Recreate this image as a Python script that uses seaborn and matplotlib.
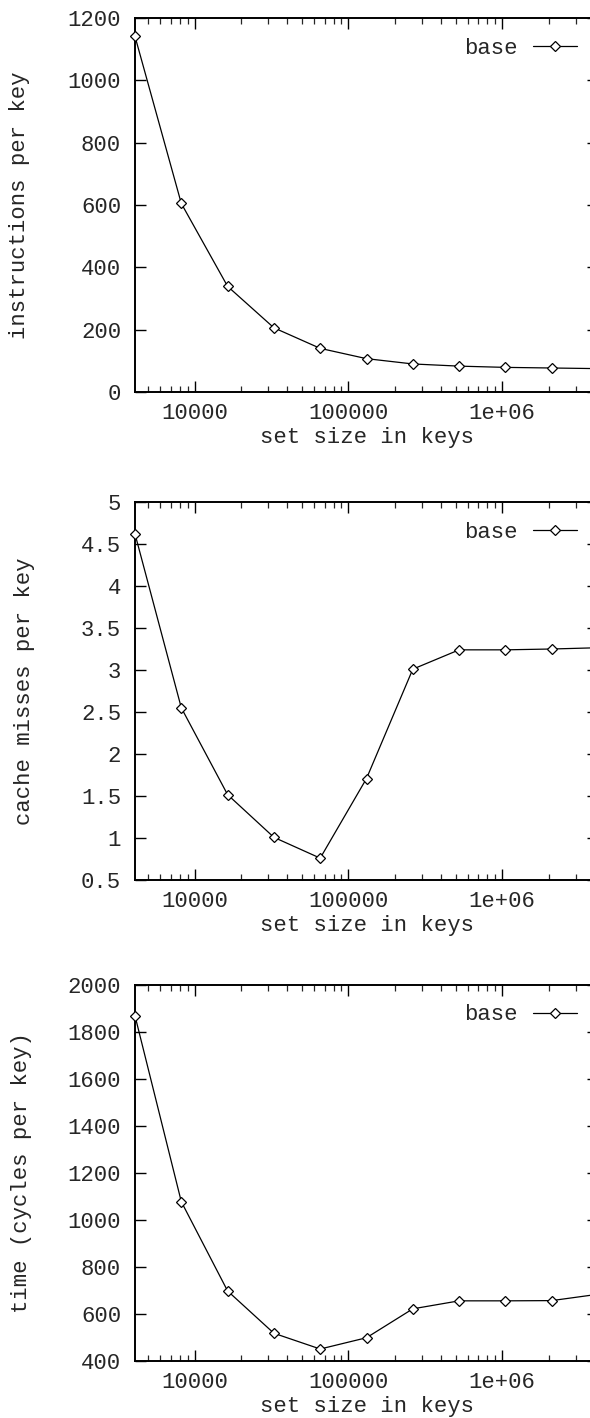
import matplotlib
matplotlib.use("Agg")
import matplotlib.pyplot as plt
import matplotlib.ticker as mticker
import seaborn as sns
import pandas as pd

# ---- data ----
set_sizes = [4096, 8192, 16384, 32768, 65536, 131072, 262144, 524288,
             1048576, 2097152, 4194304]
instructions = [1141, 605, 339, 206, 140, 107, 90, 83, 79, 77, 75]
cache_misses = [4.62, 2.55, 1.516, 1.008, 0.76, 1.708, 3.01, 3.24, 3.24, 3.25, 3.265]
cycles = [1869, 1078, 698, 518, 451, 499, 622, 656, 656, 657, 684]

series_label = "base"
x_label = "set size in keys"
y_labels = ["instructions per key", "cache misses per key", "time (cycles per key)"]
y_limits = [(0, 1200), (0.5, 5), (400, 2000)]
y_steps = [200, 0.5, 200]
x_ticks = [10000, 100000, 1000000]
x_tick_labels = ["10000", "100000", "1e+06"]

# ---- style ----
sns.set_style("ticks")
plt.rcParams["font.family"] = ["Liberation Mono", "DejaVu Sans Mono"]
FS = 16

W, H = 590, 1418
fig = plt.figure(figsize=(W / 100, H / 100), dpi=100)

left = 135 / W
width = (598 - 135) / W
panels_px = [(18, 392), (502, 880), (985, 1361)]
ylabel_x_px = [20, 25, 22]

datasets = [instructions, cache_misses, cycles]

for i, (top_px, bot_px) in enumerate(panels_px):
    ax = fig.add_axes([left, 1 - bot_px / H, width, (bot_px - top_px) / H])
    df = pd.DataFrame({"x": set_sizes, "y": datasets[i]})
    sns.lineplot(data=df, x="x", y="y", ax=ax, color="black", linewidth=0.9,
                 marker="D", markersize=4.6, markerfacecolor="white",
                 markeredgecolor="black", markeredgewidth=0.9,
                 label=series_label, clip_on=False, zorder=3)
    ax.set_xscale("log")
    ax.set_xlim(4096, 4194304)
    ax.set_ylim(*y_limits[i])
    ax.yaxis.set_major_locator(mticker.MultipleLocator(y_steps[i]))
    ax.set_xticks(x_ticks)
    ax.set_xticklabels(x_tick_labels)
    ax.xaxis.set_minor_locator(mticker.LogLocator(base=10, subs=range(2, 10), numticks=20))
    ax.xaxis.set_minor_formatter(mticker.NullFormatter())
    ax.tick_params(axis="both", which="major", direction="in", length=8, width=1.0,
                   top=True, right=True, labelsize=FS, color="black")
    ax.tick_params(axis="y", which="major", pad=10)
    ax.tick_params(axis="x", which="major", pad=8)
    ax.tick_params(axis="x", which="minor", direction="in", length=4, width=0.9,
                   top=True, bottom=True)
    for sp in ax.spines.values():
        sp.set_visible(True)
        sp.set_linewidth(1.4)
        sp.set_color("black")
    ax.set_xlabel(x_label, fontsize=FS, labelpad=2)
    ax.set_ylabel(y_labels[i], fontsize=FS)
    ax.yaxis.label.set_verticalalignment("center")
    h_px = bot_px - top_px
    ax.yaxis.set_label_coords((ylabel_x_px[i] - 135) / (598 - 135), 0.5)
    if i == 1:
        ax.yaxis.set_major_formatter(mticker.FuncFormatter(lambda v, p: f"{v:g}"))
    ax.legend(loc="center right", bbox_to_anchor=(0.955, 1 - 30 / h_px),
              frameon=False, markerfirst=False, fontsize=FS,
              handlelength=2.0, handletextpad=0.7, borderpad=0, borderaxespad=0)
    ax.set_facecolor("white")

fig.savefig("out.png", dpi=100, facecolor="white")
